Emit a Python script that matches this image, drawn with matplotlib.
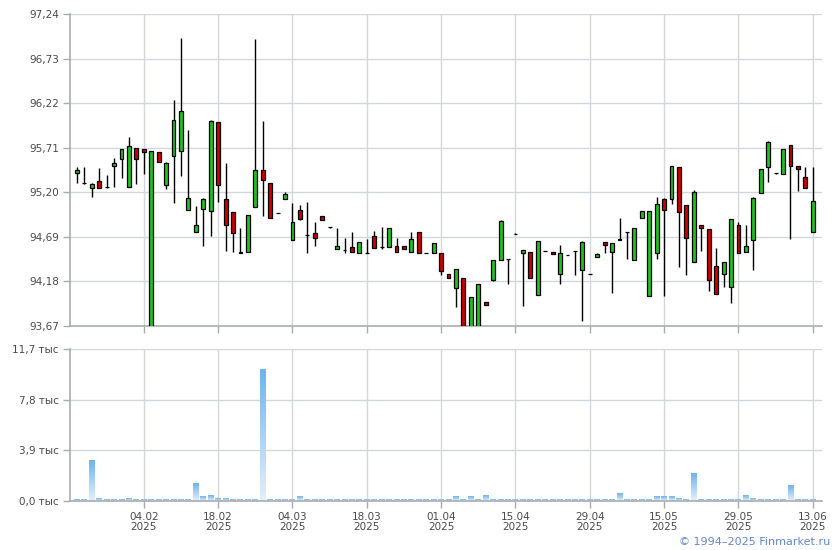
import matplotlib
matplotlib.use("Agg")
import matplotlib.pyplot as plt
from matplotlib.patches import Rectangle
from matplotlib.colors import LinearSegmentedColormap
import numpy as np

# ---------------- data ----------------
opens = [95.42, 95.31, 95.25, 95.33, 95.26, 95.50, 95.58, 95.26, 95.71, 95.69,
         93.60, 95.66, 95.28, 95.62, 95.67, 95.00, 94.75, 95.01, 94.99, 96.00,
         95.12, 94.98, 94.52, 94.52, 95.03, 95.45, 95.31, 94.96, 95.12, 94.65,
         95.00, 94.71, 94.73, 94.93, 94.80, 94.55, 94.54, 94.57, 94.51, 94.51,
         94.70, 94.57, 94.57, 94.58, 94.58, 94.52, 94.74, 94.51, 94.50, 94.51,
         94.27, 94.11, 94.22, 93.60, 93.60, 93.94, 94.20, 94.42, 94.44, 94.72,
         94.50, 94.52, 94.02, 94.53, 94.52, 94.27, 94.48, 94.53, 94.31, 94.26,
         94.46, 94.63, 94.52, 94.65, 94.75, 94.43, 94.91, 94.01, 94.51, 95.12,
         95.12, 95.49, 95.05, 94.40, 94.82, 94.78, 94.36, 94.27, 94.12, 94.83,
         94.52, 94.65, 95.19, 95.49, 95.42, 95.41, 95.74, 95.50, 95.38, 94.75]
highs = [95.49, 95.49, 95.31, 95.48, 95.40, 95.59, 95.69, 95.83, 95.71, 95.69,
         95.67, 95.66, 95.55, 96.26, 96.96, 95.91, 95.04, 95.13, 96.03, 96.00,
         95.54, 94.98, 94.79, 94.94, 96.95, 96.02, 95.31, 94.96, 95.20, 95.08,
         95.06, 95.09, 94.86, 94.93, 94.80, 94.79, 94.68, 94.75, 94.63, 94.67,
         94.76, 94.80, 94.79, 94.68, 94.58, 94.75, 94.74, 94.51, 94.62, 94.51,
         94.27, 94.32, 94.22, 94.00, 94.15, 93.94, 94.42, 94.88, 94.44, 94.73,
         94.54, 94.52, 94.64, 94.53, 94.52, 94.60, 94.48, 94.53, 94.64, 94.26,
         94.50, 94.63, 94.62, 94.91, 94.75, 94.79, 94.99, 94.99, 95.15, 95.13,
         95.50, 95.49, 95.06, 95.23, 94.82, 94.78, 94.56, 94.40, 94.89, 94.86,
         94.83, 95.15, 95.47, 95.79, 95.42, 95.70, 95.74, 95.50, 95.49, 95.49]
lows = [95.31, 95.30, 95.15, 95.25, 95.25, 95.26, 95.36, 95.26, 95.29, 95.41,
        93.60, 95.55, 95.24, 95.08, 95.39, 95.00, 94.75, 94.59, 94.70, 95.09,
        94.53, 94.52, 94.50, 94.52, 95.03, 94.93, 94.91, 94.96, 95.12, 94.65,
        94.88, 94.50, 94.59, 94.88, 94.79, 94.55, 94.50, 94.52, 94.50, 94.50,
        94.56, 94.55, 94.57, 94.52, 94.55, 94.52, 94.51, 94.50, 94.50, 94.25,
        94.22, 93.89, 93.60, 93.60, 93.60, 93.91, 94.18, 94.42, 94.15, 94.72,
        93.90, 94.22, 94.02, 94.53, 94.49, 94.15, 94.48, 94.25, 93.73, 94.26,
        94.46, 94.50, 94.05, 94.65, 94.44, 94.43, 94.91, 94.01, 94.44, 94.01,
        95.07, 94.35, 94.25, 94.40, 94.53, 94.07, 94.04, 94.12, 93.93, 94.50,
        94.52, 94.31, 95.19, 95.32, 95.41, 95.41, 94.66, 95.21, 95.25, 94.75]
closes = [95.46, 95.31, 95.29, 95.25, 95.26, 95.54, 95.69, 95.73, 95.58, 95.66,
          95.67, 95.55, 95.53, 96.03, 96.13, 95.13, 94.83, 95.12, 96.02, 95.28,
          94.82, 94.73, 94.50, 94.94, 95.45, 95.34, 94.91, 94.96, 95.18, 94.86,
          94.90, 94.71, 94.68, 94.88, 94.80, 94.59, 94.54, 94.52, 94.63, 94.51,
          94.56, 94.57, 94.79, 94.52, 94.55, 94.67, 94.51, 94.51, 94.62, 94.30,
          94.22, 94.32, 93.60, 94.00, 94.15, 93.91, 94.42, 94.87, 94.44, 94.72,
          94.54, 94.22, 94.64, 94.53, 94.49, 94.50, 94.48, 94.53, 94.63, 94.26,
          94.49, 94.60, 94.62, 94.67, 94.75, 94.79, 94.99, 94.99, 95.07, 95.00,
          95.50, 94.98, 94.68, 95.20, 94.79, 94.20, 94.04, 94.40, 94.89, 94.50,
          94.59, 95.14, 95.47, 95.78, 95.42, 95.70, 95.50, 95.47, 95.25, 95.10]
volumes = [0.08, 0.08, 3.08, 0.23, 0.08, 0.15, 0.08, 0.23, 0.08, 0.08,
           0.08, 0.08, 0.08, 0.08, 0.08, 0.08, 1.38, 0.31, 0.46, 0.23,
           0.23, 0.08, 0.08, 0.15, 0.15, 10.15, 0.08, 0.08, 0.08, 0.08,
           0.31, 0.08, 0.15, 0.15, 0.08, 0.08, 0.08, 0.08, 0.08, 0.08,
           0.08, 0.08, 0.08, 0.08, 0.08, 0.08, 0.08, 0.08, 0.15, 0.08,
           0.08, 0.31, 0.08, 0.31, 0.08, 0.46, 0.08, 0.08, 0.08, 0.08,
           0.08, 0.08, 0.08, 0.08, 0.08, 0.08, 0.08, 0.08, 0.08, 0.08,
           0.08, 0.08, 0.08, 0.54, 0.15, 0.08, 0.08, 0.15, 0.38, 0.31,
           0.31, 0.23, 0.08, 2.08, 0.08, 0.08, 0.15, 0.08, 0.15, 0.08,
           0.46, 0.23, 0.08, 0.08, 0.08, 0.08, 1.23, 0.08, 0.08, 0.08]
tick_index = [9, 19, 29, 39, 49, 59, 69, 79, 89, 99]
tick_dates = ["04.02\n2025", "18.02\n2025", "04.03\n2025", "18.03\n2025", "01.04\n2025",
              "15.04\n2025", "29.04\n2025", "15.05\n2025", "29.05\n2025", "13.06\n2025"]
price_ticks = [93.67, 94.18, 94.69, 95.20, 95.71, 96.22, 96.73, 97.24]
vol_ticks = [0.0, 3.9, 7.8, 11.7]

# ---------------- style ----------------
GRID = "#d3d7dc"
SPINE = "#a8adb4"
TXT = "#4a4a4a"
UP = "#1ec31e"
DOWN = "#d00000"

fig = plt.figure(figsize=(8.4, 5.5), dpi=100)
W, H = 840, 550
L_PX, R_PX = 70, 822
ax = fig.add_axes([L_PX / W, 1 - 326 / H, (R_PX - L_PX) / W, (326 - 14) / H])
axv = fig.add_axes([L_PX / W, 1 - 501 / H, (R_PX - L_PX) / W, (501 - 349) / H])

xlim = (-0.93, 100.24)

def style_axis(a):
    for s in ("top", "right"):
        a.spines[s].set_visible(False)
    for s in ("left", "bottom"):
        a.spines[s].set_color(SPINE)
        a.spines[s].set_linewidth(1.2)
    a.tick_params(axis="both", colors=SPINE, labelcolor=TXT, labelsize=7.5,
                  length=5, width=1.0, direction="out", pad=3)
    a.grid(True, color=GRID, linewidth=1.0)
    a.set_axisbelow(True)
    a.set_xticks(tick_index)
    a.set_xlim(*xlim)

# ---- price panel ----
style_axis(ax)
x = np.arange(len(opens))
bw = 0.52
for i in x:
    o, h, l, c = opens[i], highs[i], lows[i], closes[i]
    ax.vlines(i, l, h, color="black", linewidth=1.0, zorder=2)
    col = UP if c > o else (DOWN if c < o else "black")
    ax.add_patch(Rectangle((i - bw / 2, min(o, c)), bw, abs(c - o),
                           facecolor=col, edgecolor="black", linewidth=0.9, zorder=3))
ax.set_ylim(price_ticks[0], price_ticks[-1])
ax.set_yticks(price_ticks)
ax.set_yticklabels([f"{v:.2f}".replace(".", ",") for v in price_ticks])
ax.set_xticklabels([])

# ---- volume panel ----
style_axis(axv)
cmap = LinearSegmentedColormap.from_list("vg", ["#e4effb", "#6fb4ee"])
grad = np.linspace(0, 1, 64).reshape(-1, 1)
vw = 0.8
for i, v in zip(x, volumes):
    axv.imshow(grad, extent=[i - vw / 2, i + vw / 2, 0, v], aspect="auto",
               cmap=cmap, origin="lower", zorder=2, interpolation="bilinear")
axv.set_xlim(*xlim)
axv.set_ylim(vol_ticks[0], vol_ticks[-1])
axv.set_yticks(vol_ticks)
axv.set_yticklabels([f"{v:.1f}".replace(".", ",") + " тыс" for v in vol_ticks])
axv.set_xticks(tick_index)
axv.set_xticklabels(tick_dates, linespacing=1.0)

fig.text(830 / W, 1 - 542 / H, "© 1994–2025 Finmarket.ru", ha="right", va="center",
         color="#5f86d8", fontsize=8)

fig.savefig("out.png", dpi=100)
